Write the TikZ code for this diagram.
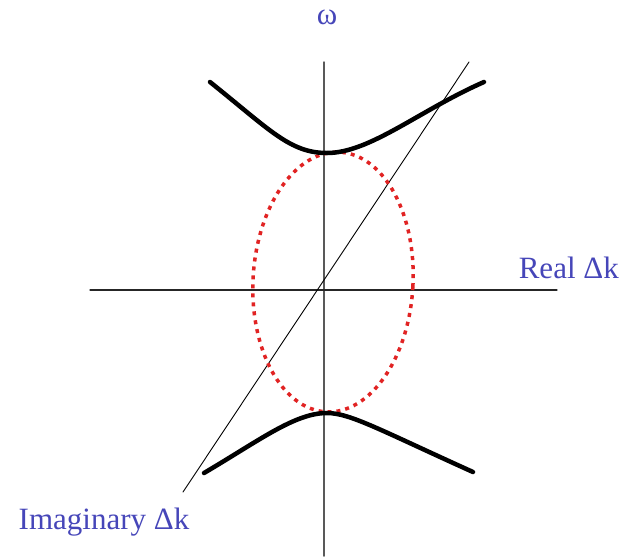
\documentclass[tikz,border=0pt]{standalone}
\usepackage{fontspec}
\setmainfont{Liberation Serif}
\usepackage{tikz}

\definecolor{labelblue}{RGB}{70,70,185}
\definecolor{dotred}{RGB}{225,35,35}

\tikzset{
  axis/.style={line width=1.5pt,black!65},
  branch/.style={line width=4.5pt,line cap=round,line join=round},
  lbl/.style={text=labelblue,font=\fontsize{31}{36}\selectfont,inner sep=0pt}
}

\begin{document}
\begin{tikzpicture}[x=1pt, y=-1pt, line cap=round, line join=round]
              \useasboundingbox (0,0) rectangle (623,558);

              % axes
              \coordinate (wtop) at (324,62);
              \coordinate (wbot) at (324,556);
              \coordinate (kleft) at (90,290);
              \coordinate (kright) at (557,290);
              \draw[axis] (wbot) -- (wtop);
              \draw[axis,black!85,line width=1.3pt] (kleft) -- (kright);

              % imaginary direction
              \coordinate (dlow) at (183,492);
              \coordinate (dhigh) at (469,62);
              \draw[thin,black,line width=0.9pt] (dlow) -- (dhigh);

              % gap region
              \draw[dotred,line width=3.5pt,line cap=butt,dash pattern=on 4pt off 5pt,rotate around={-3:(333,282)}]
                (333,282) ellipse [x radius=80, y radius=130];

              % dispersion branches
              \draw[branch] (210,82) .. controls (270,130) and (290,153) .. (327,153)
                .. controls (370,153) and (420,110) .. (484,82);
              \draw[branch] (204,473) .. controls (260,440) and (295,413) .. (327,413)
                .. controls (350,413) and (380,430) .. (473,472);

              \node[lbl] (omega) at (327,17) {ω};
              \node[lbl,anchor=east] (real) at (619,268) {Real Δk};
              \node[lbl] (imag) at (104,522) {Imaginary Δk};

            \end{tikzpicture}
\end{document}
